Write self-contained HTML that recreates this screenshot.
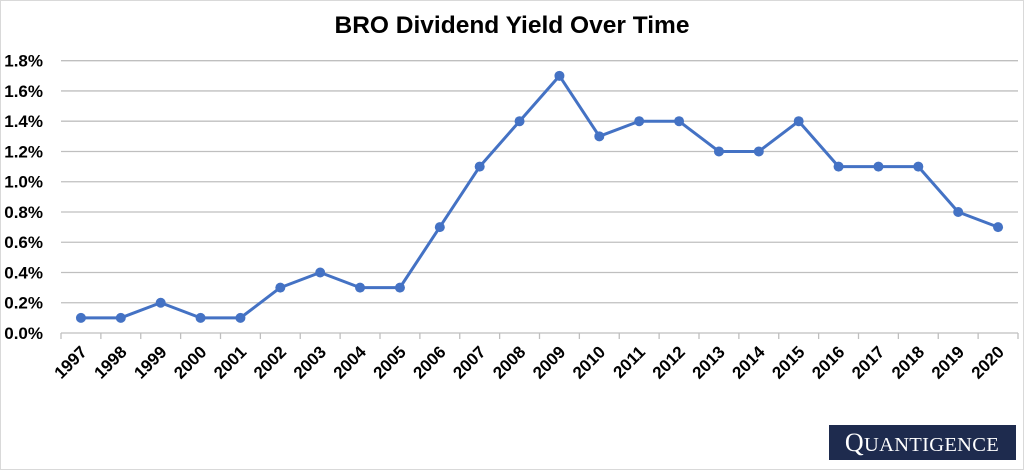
<!DOCTYPE html>
<html><head><meta charset="utf-8"><style>
body{margin:0;background:#fff}
svg{display:block;font-family:"Liberation Sans",sans-serif}
</style></head><body>
<svg width="1024" height="470" viewBox="0 0 1024 470">
<rect x="0.5" y="0.5" width="1023" height="469" fill="#fff" stroke="#d9d9d9"/>
<text x="512" y="33" text-anchor="middle" font-size="24.5" font-weight="bold" fill="#000">BRO Dividend Yield Over Time</text>
<g id="grid"></g><g id="axis"></g><g id="series"></g>
<g>
<rect x="829" y="425" width="187" height="35" fill="#1e2b4e"/>
<text x="922" y="451" text-anchor="middle" font-family="Liberation Serif,serif" font-size="26" fill="#fff" letter-spacing="0.3">Q<tspan font-size="20.5">UANTIGENCE</tspan></text>
</g>
</svg>
<script>
const years=["1997","1998","1999","2000","2001","2002","2003","2004","2005","2006","2007","2008","2009","2010","2011","2012","2013","2014","2015","2016","2017","2018","2019","2020"];
const yieldVals=[0.1,0.1,0.2,0.1,0.1,0.3,0.4,0.3,0.3,0.7,1.1,1.4,1.7,1.3,1.4,1.4,1.2,1.2,1.4,1.1,1.1,1.1,0.8,0.7];
const yTicks=[0,0.2,0.4,0.6,0.8,1.0,1.2,1.4,1.6,1.8];
const NS="http://www.w3.org/2000/svg";
const L=61,R=1018,T=60.7,B=333;
const step=(R-L)/years.length;
const xs=i=>L+step*(i+0.5);
const ys=v=>B-(v/1.8)*(B-T);
function mk(t,a,p){const e=document.createElementNS(NS,t);for(const k in a)e.setAttribute(k,a[k]);p.appendChild(e);return e;}
const grid=document.getElementById('grid'),axis=document.getElementById('axis'),ser=document.getElementById('series');
yTicks.forEach(v=>{
 if(v>0){const g=mk('line',{x1:L,x2:R,y1:ys(v),y2:ys(v),stroke:'#bfbfbf','stroke-width':1.3},grid);
 
 }
 const t=mk('text',{x:43,y:ys(v)+6,'text-anchor':'end','font-size':17,'font-weight':'bold',fill:'#000'},axis);
 t.textContent=v.toFixed(1)+'%';
 
 
});
const xa=mk('line',{x1:L,x2:R,y1:B,y2:B,stroke:'#bfbfbf','stroke-width':1.3},axis);


for(let i=0;i<=years.length;i++){mk('line',{x1:L+step*i,x2:L+step*i,y1:B,y2:B+6,stroke:'#bfbfbf','stroke-width':1.3},axis);}
years.forEach((y,i)=>{
 const x=xs(i)+7,yy=B+20;
 const t=mk('text',{x:x,y:yy,'text-anchor':'end','font-size':17,'font-weight':'bold',fill:'#000',transform:`rotate(-45 ${x} ${yy})`},axis);
 t.textContent=y;
 
 
});
const pl=mk('polyline',{points:yieldVals.map((v,i)=>xs(i)+','+ys(v)).join(' '),fill:'none',stroke:'#4472c4','stroke-width':3,'stroke-linejoin':'round'},ser);


yieldVals.forEach((v,i)=>{
 const c=mk('circle',{cx:xs(i),cy:ys(v),r:5,fill:'#4472c4'},ser);
 
 
});
</script>
</body></html>
